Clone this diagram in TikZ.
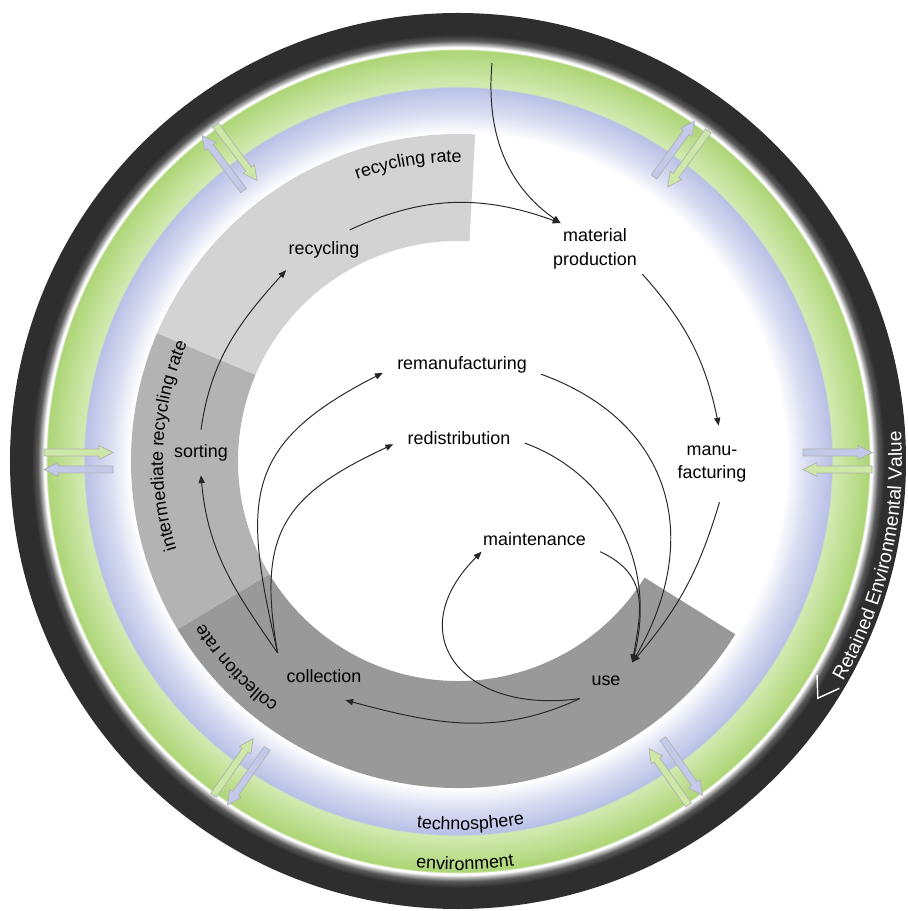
\documentclass[tikz,border=0pt]{standalone}
\usepackage{fontspec}
\setmainfont{Liberation Sans}
\usetikzlibrary{arrows.meta,decorations.text}

\definecolor{ringdark}{HTML}{2E2E2E}
\definecolor{ringmid}{HTML}{5A5A5A}
\definecolor{ringgray}{HTML}{C8C8C8}
\definecolor{envgreen}{HTML}{ADD576}
\definecolor{envlight}{HTML}{D3EAB2}
\definecolor{techblue}{HTML}{B9C0E6}
\definecolor{techmid}{HTML}{D8DCF1}
\definecolor{ratelight}{HTML}{D3D3D3}
\definecolor{ratemid}{HTML}{B3B3B3}
\definecolor{ratedark}{HTML}{999999}
\definecolor{flowblue}{HTML}{C3C9E9}
\definecolor{flowgreen}{HTML}{CDE7A6}

\newcommand\bandfont{\fontsize{10.2}{12}\selectfont}

% rings: white core, technosphere, environment, outer band
\pgfdeclareradialshading{spheres}{\pgfpoint{0bp}{0bp}}{%
  color(0bp)=(white);
  color(18.3bp)=(white);
  color(19.5bp)=(techmid);
  color(20.85bp)=(techblue);
  color(20.9bp)=(envlight);
  color(22.94bp)=(envgreen);
  color(22.98bp)=(white);
  color(23.1bp)=(white);
  color(23.2bp)=(ringgray);
  color(23.45bp)=(ringmid);
  color(23.8bp)=(ringdark);
  color(25bp)=(ringdark);
  color(50bp)=(ringdark)}

\begin{document}
\begin{tikzpicture}[x=0.02cm,y=0.02cm,
    lbl/.style={font=\fontsize{10.2}{13.6}\selectfont, align=center,
      inner xsep=8pt, inner ysep=3pt},
    flow/.style={draw=black!85, line width=0.55pt,
      -{Triangle[length=4.5pt,width=3.5pt]}},
    xchg/.style={draw=black!30, line width=0.4pt}
  ]
  \useasboundingbox (-458,-450) rectangle (449,461);

  \shade[shading=spheres] (0,0) circle (448);

  % rate band
  \fill[ratelight] (87:220) -- (87:327) arc[start angle=87,end angle=157,radius=327]
    -- (157:220) arc[start angle=157,end angle=87,radius=220] -- cycle;
  \fill[ratemid] (157:220) -- (157:327) arc[start angle=157,end angle=211,radius=327]
    -- (211:220) arc[start angle=211,end angle=157,radius=220] -- cycle;
  \fill[ratedark] (211:220) -- (211:327) arc[start angle=211,end angle=328,radius=327]
    -- (328:220) arc[start angle=328,end angle=211,radius=220] -- cycle;

  % exchange arrows
  \foreach \a in {0,54,127,180,235,305}{
    \begin{scope}[rotate=\a]
      \filldraw[xchg, fill=flowblue] (345,5) -- (400,5) -- (400,1.5) -- (414,8.5)
        -- (400,15.5) -- (400,12) -- (345,12) -- cycle;
      \filldraw[xchg, fill=flowgreen] (414,-5) -- (359,-5) -- (359,-1.5) -- (345,-8.5)
        -- (359,-15.5) -- (359,-12) -- (414,-12) -- cycle;
    \end{scope}
  }

  % curved labels
  \path[decorate, decoration={text along path, text align=center,
    text={|\bandfont|recycling rate}}]
    (115:299) arc[start angle=115,end angle=84,radius=299];
  \path[decorate, decoration={text along path, text align=center,
    text={|\bandfont|intermediate recycling rate}}]
    (202:295) arc[start angle=202,end angle=152,radius=295];
  \path[decorate, decoration={text along path, text align=center,
    text={|\bandfont|collection rate}}]
    (236:302) arc[start angle=236,end angle=210,radius=302];
  \path[decorate, decoration={text along path, text align=center,
    text={|\bandfont|technosphere}}]
    (255:369) arc[start angle=255,end angle=289,radius=369];
  \path[decorate, decoration={text along path, text align=center,
    text={|\bandfont|environment}}]
    (254:409) arc[start angle=254,end angle=288,radius=409];
  \path[decorate, decoration={text along path, text align=center, text color=white,
    text={|\fontsize{11}{13}\selectfont|Retained Environmental Value}}]
    (-37:444) arc[start angle=-37,end angle=11,radius=444];
  \draw[white, line width=0.8pt] (-30.8:418) -- (-33.4:431) -- (-30.8:444);

  % stages
  \node[lbl, inner xsep=3pt, inner ysep=6.5pt] (recycling) at (-134,211) {recycling};
  \node[lbl, inner sep=3pt] (material) at (137,212) {material\\production};
  \node[lbl, inner xsep=3pt, inner ysep=11pt] (manufacturing) at (254,-3) {manu-\\facturing};
  \node[lbl, inner xsep=6.5pt, inner ysep=7.3pt] (use) at (148,-219.5) {use};
  \node[lbl] (maintenance) at (76.5,-78.5) {maintenance};
  \node[lbl] (redistribution) at (1,22.5) {redistribution};
  \node[lbl] (remanufacturing) at (4,96.5) {remanufacturing};
  \node[lbl, inner ysep=9.5pt] (collection) at (-134,-215.5) {collection};
  \node[lbl, inner xsep=3pt, inner ysep=8pt] (sorting) at (-257,8.5) {sorting};
  \coordinate (inflow) at (34,398);

  % flows
  \draw[flow] (recycling.38) to[out=25,in=160] (material.143);
  \draw[flow] (inflow) to[out=-95,in=145] (material.143);
  \draw[flow] (material.-28) to[bend left=15] (manufacturing.80);
  \draw[flow] (manufacturing.-79) to[bend left=12] (use.north east);
  \draw[flow] (remanufacturing.-7.5) to[out=-20,in=60,looseness=1.2] (use.north east);
  \draw[flow] (redistribution.-4) to[out=-20,in=75] (use.north east);
  \draw[flow] (maintenance.south east) to[out=-25,in=80,looseness=1.2] (use.north east);
  \draw[flow] (use.south west) to[out=188,in=225,looseness=1.7] (maintenance.193);
  \draw[flow] (use.south west) to[out=205,in=-15] (collection.-48);
  \draw[flow] (collection.153) to[out=125,in=-85] (sorting.south);
  \draw[flow] (collection.153) to[out=100,in=205,looseness=1.3] (redistribution.185);
  \draw[flow] (collection.153) to[out=103,in=207,looseness=1.35] (remanufacturing.186);
  \draw[flow] (sorting.north) to[out=82,in=228] (recycling.208);
\end{tikzpicture}
\end{document}
